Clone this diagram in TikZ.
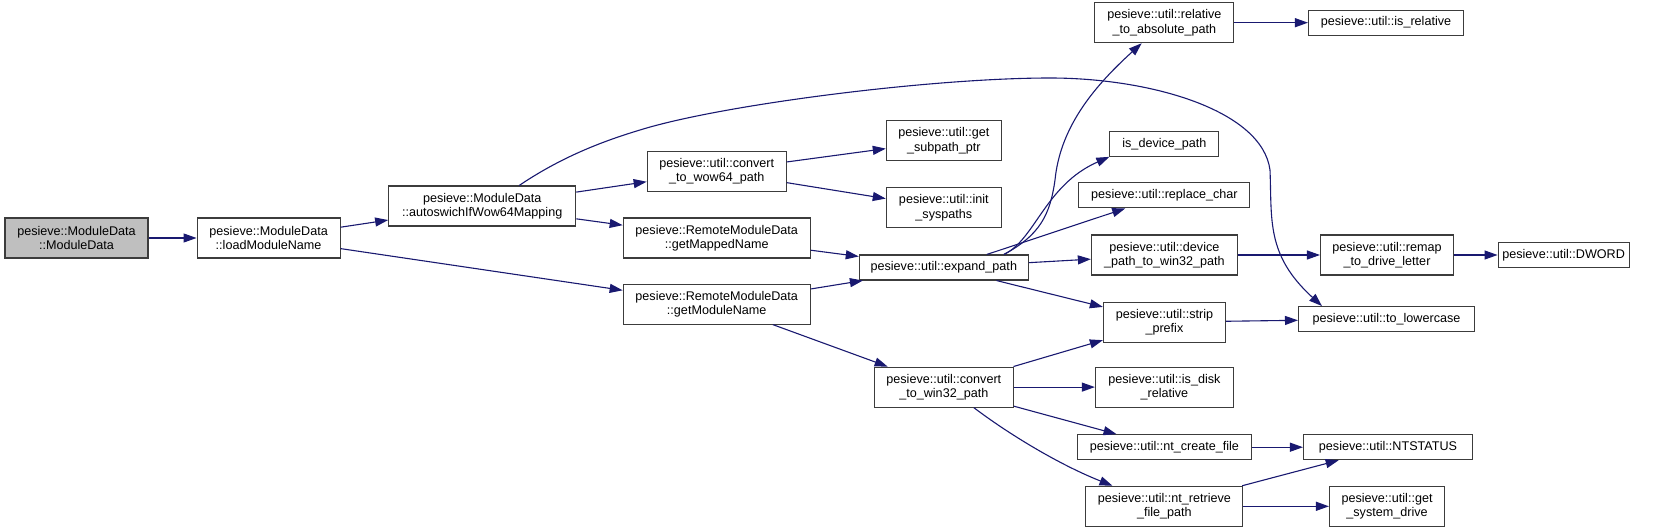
\documentclass[tikz,border=0pt]{standalone}
\usepackage{fontspec}
\setmainfont{Liberation Sans}
\usepackage{xcolor}
\usepackage{tikz}
\usetikzlibrary{arrows.meta,positioning}
\definecolor{edgecolor}{RGB}{25,25,112}
\definecolor{rootcolor}{RGB}{191,191,191}
\definecolor{bordercolor}{RGB}{60,60,60}

\begin{document}
\begin{tikzpicture}[x=1bp,y=-1bp,>={Triangle[length=13bp,width=9bp]},every node/.style={font=\fontsize{12.6bp}{14.5bp}\selectfont},fn/.style={draw=bordercolor,line width=1.1bp,fill=white,align=center,inner sep=0pt,minimum height=25bp},fn2/.style={fn,minimum height=40bp},call/.style={->,draw=edgecolor,line width=1.1bp}]
\useasboundingbox(0,0)rectangle(1667,529);
\node[fn2,fill=rootcolor,minimum width=143bp](ctor)at(76.5,238){pesieve::ModuleData\\::ModuleData};
\node[fn2,right=48bp of ctor,minimum width=143bp](load){pesieve::ModuleData\\::loadModuleName};
\node[fn2,right=47.5bp of load,yshift=32bp,minimum width=187bp](autosw){pesieve::ModuleData\\::autoswichIfWow64Mapping};
\node[fn2,right=282bp of load,minimum width=187bp](mapped){pesieve::RemoteModuleData\\::getMappedName};
\node[fn2,below=25bp of mapped,minimum width=187bp](modname){pesieve::RemoteModuleData\\::getModuleName};
\node[fn2,above=25.5bp of mapped,minimum width=139bp](wow){pesieve::util::convert\\\_to\_wow64\_path};
\node[fn,right=48bp of mapped,yshift=-29.5bp,minimum width=169bp](expand){pesieve::util::expand\_path};
\node[fn2,above=26bp of expand,minimum width=115bp](initsys){pesieve::util::init\\\_syspaths};
\node[fn2,above=26bp of initsys,minimum width=115bp](subpath){pesieve::util::get\\\_subpath\_ptr};
\node[fn2,below=86bp of expand,minimum width=139bp](win){pesieve::util::convert\\\_to\_win32\_path};
\node[fn2,right=62bp of expand,yshift=12.5bp,minimum width=146bp](devpath){pesieve::util::device\\\_path\_to\_win32\_path};
\node[fn,above=26bp of devpath,minimum width=171bp](repl){pesieve::util::replace\_char};
\node[fn,above=25.5bp of repl,minimum width=109bp](isdev){is\_device\_path};
\node[fn2,above=87.5bp of isdev,minimum width=139bp](relabs){pesieve::util::relative\\\_to\_absolute\_path};
\node[fn2,below=26bp of devpath,minimum width=122bp](strip){pesieve::util::strip\\\_prefix};
\node[fn2,right=81bp of win,minimum width=138bp](isdisk){pesieve::util::is\_disk\\\_relative};
\node[fn,below=26.5bp of isdisk,minimum width=174bp](ntcreate){pesieve::util::nt\_create\_file};
\node[fn2,below=25.5bp of ntcreate,minimum width=157bp](ntretr){pesieve::util::nt\_retrieve\\\_file\_path};
\node[fn2,right=82bp of devpath,minimum width=133bp](remap){pesieve::util::remap\\\_to\_drive\_letter};
\node[fn,right=43.5bp of remap,minimum width=131bp](dword){pesieve::util::DWORD};
\node[fn,right=73.5bp of relabs,minimum width=155bp](isrel){pesieve::util::is\_relative};
\node[fn,right=72bp of strip,yshift=3bp,minimum width=176bp](lower){pesieve::util::to\_lowercase};
\node[fn,right=51bp of ntcreate,minimum width=169bp](ntstatus){pesieve::util::NTSTATUS};
\node[fn2,right=85.5bp of ntretr,minimum width=115bp](sysdrive){pesieve::util::get\\\_system\_drive};
\draw[call](ctor)--(load); \draw[call](load)--(autosw); \draw[call](load)--(modname); \draw[call](autosw)--(wow); \draw[call](autosw)--(mapped);
\draw[call]([xshift=37bp]autosw.north) .. controls (560,158) and (600,142) .. (640,130) .. controls (720,105) and (930,78) .. (1050,78) .. controls (1150,78) and (1262,110) .. (1270,170) .. controls (1272,220) and (1266,255) .. ([xshift=24bp]lower.north west);
\draw[call](wow)--(subpath); \draw[call](wow)--(initsys); \draw[call](mapped)--(expand); \draw[call](modname)--(expand); \draw[call](modname)--(win);
\draw[call]([xshift=-25bp]expand.north east) .. controls (1040,235) and (1050,215) .. (1055,180) .. controls (1060,130) and (1090,90) .. (relabs);
\draw[call]([xshift=-25bp]expand.north east) .. controls (1035,240) and (1045,185) .. (isdev.south west);
\draw[call]([xshift=-42bp]expand.north east)--(repl); \draw[call](expand)--(devpath); \draw[call](expand)--(strip);
\draw[call](relabs)--(isrel); \draw[call](devpath)--(remap); \draw[call](remap)--(dword); \draw[call](strip)--(lower);
\draw[call](win)--(strip); \draw[call](win)--(isdisk); \draw[call](win)--(ntcreate);
\draw[call]([xshift=30bp]win.south) .. controls (1010,435) and (1060,465) .. (ntretr);
\draw[call](ntcreate)--(ntstatus); \draw[call](ntretr)--(ntstatus); \draw[call](ntretr)--(sysdrive);
\end{tikzpicture}
\end{document}
